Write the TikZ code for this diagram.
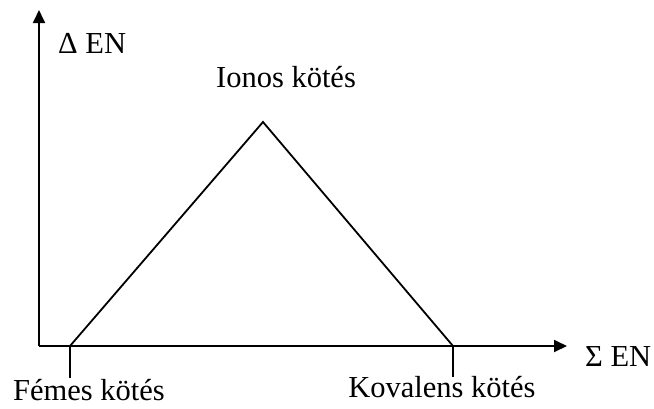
\documentclass[tikz,border=0pt]{standalone}
\usepackage{fontspec}
\setmainfont{Liberation Serif}
\usetikzlibrary{arrows.meta}
\begin{document}
\begin{tikzpicture}[x=1pt,y=-1pt,
  axis/.style={line width=1.8pt,-{Triangle[length=13pt,width=12pt]}},
  ln/.style={line width=1.8pt},
  lbl/.style={inner sep=0pt,font=\fontsize{30.5}{34}\selectfont}]
\useasboundingbox (0,0) rectangle (654,408);
\coordinate (o) at (39,346);
\coordinate (ytop) at (39,10);
\coordinate (xend) at (567,346);
\coordinate (a) at (70,346);
\coordinate (b) at (263,122);
\coordinate (c) at (453,346);
\coordinate (ta) at (70,378);
\coordinate (tc) at (453,377);
\draw[axis] (o) -- (ytop);
\draw[axis] (o) -- (xend);
\draw[ln,line join=miter] (a) -- (b) -- (c);
\draw[ln] (a) -- (ta);
\draw[ln] (c) -- (tc);
\node[lbl,anchor=west] (dy) at (58,43) {Δ EN};
\node[lbl,anchor=base] (ion) at (286,87) {Ionos kötés};
\node[lbl,anchor=west] (sx) at (585,357) {Σ EN};
\node[lbl,anchor=base] (fem) at (89,400) {Fémes kötés};
\node[lbl,anchor=base] (kov) at (442,397) {Kovalens kötés};
\end{tikzpicture}
\end{document}
